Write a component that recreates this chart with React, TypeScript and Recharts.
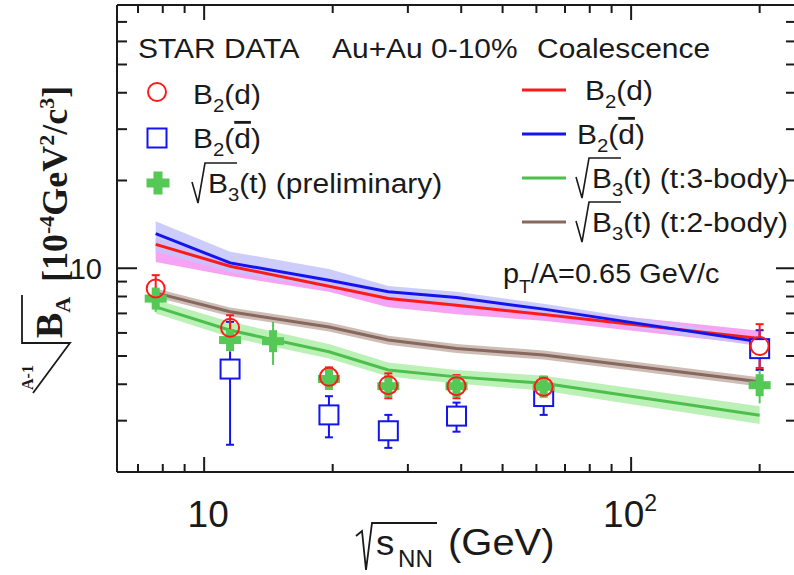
import React from 'react';
import { ComposedChart, XAxis, YAxis, Area, Line, Scatter, ErrorBar } from 'recharts';

// collision energies (GeV) used by the coalescence curves
const energies = [7.7, 11.5, 19.6, 27, 39, 62.4, 200];

// coalescence model: B2(d)
const modelD = [12.08, 10.16, 8.68, 7.87, 7.47, 6.94, 5.74];
const modelDLow = [10.5, 9.4, 8.3, 7.35, 6.95, 6.6, 5.45];
const modelDHigh = [12.7, 10.6, 9.05, 8.15, 7.75, 7.3, 6.1];
// coalescence model: B2(dbar)
const modelDbar = [13.15, 10.43, 9.1, 8.3, 7.93, 7.24, 5.59];
const modelDbarLow = [11.4, 9.7, 8.5, 7.8, 7.5, 6.95, 5.4];
const modelDbarHigh = [14.5, 11.4, 9.95, 8.7, 8.3, 7.55, 5.8];
// coalescence model: sqrt(B3(t)), 3-body
const model3Body = [7.37, 6.13, 5.17, 4.48, 4.24, 4.03, 3.13];
const model3BodyLow = [7.0, 5.8, 4.9, 4.25, 4.02, 3.8, 2.92];
const model3BodyHigh = [7.8, 6.55, 5.5, 4.75, 4.48, 4.28, 3.36];
// coalescence model: sqrt(B3(t)), 2-body
const model2Body = [8.23, 7.09, 6.29, 5.67, 5.31, 5.04, 4.08];
const model2BodyLow = [7.95, 6.85, 6.07, 5.47, 5.12, 4.86, 3.93];
const model2BodyHigh = [8.52, 7.34, 6.51, 5.87, 5.5, 5.22, 4.23];

// STAR data: B2(d)
const dEnergies = [7.7, 11.5, 19.6, 27, 39, 62.4, 200];
const dValues = [8.52, 6.25, 4.24, 3.97, 3.94, 3.92, 5.41];
const dErrLow = [0.62, 0.58, 0.32, 0.39, 0.36, 0.29, 0.86];
const dErrHigh = [0.95, 0.65, 0.33, 0.39, 0.36, 0.32, 1.02];

// STAR data: B2(dbar)
const dbarEnergies = [11.5, 19.6, 27, 39, 62.4, 200];
const dbarValues = [4.51, 3.14, 2.77, 3.11, 3.63, 5.3];
const dbarErrLow = [2.03, 0.51, 0.35, 0.36, 0.49, 0.82];
const dbarErrHigh = [2.04, 0.5, 0.37, 0.35, 0.61, 0.83];

// STAR data: sqrt(B3(t)), preliminary
const tEnergies = [7.7, 11.5, 14.5, 19.6, 27, 39, 62.4, 200];
const tValues = [7.87, 5.67, 5.62, 4.17, 3.94, 3.94, 3.92, 3.97];
const tErrLow = [0.78, 0.5, 0.96, 0.2, 0.2, 0.2, 0.2, 0.53];
const tErrHigh = [0.76, 0.55, 0.93, 0.2, 0.2, 0.2, 0.2, 0.51];

const xTicks = [7, 8, 9, 10, 20, 30, 40, 50, 60, 70, 80, 90, 100, 200];
const yTicks = [3, 4, 5, 6, 7, 8, 9, 10, 20, 30, 40, 50, 60, 70, 80];

const W = 794;
const H = 575;
const PLOT_TOP = 5;
const PLOT_LEFT = 117;
const PLOT_BOTTOM = 472;
const INK = '#1a1a1a';
const SANS = '"Liberation Sans", Arial, sans-serif';
const SERIF = '"Liberation Serif", "Times New Roman", serif';

const RED = '#ff1a1a';
const BLUE = '#1414ee';
const GREEN = '#55c855';
const GREEN_LINE = '#4cbf4c';
const BROWN = '#86685e';

const modelRows = energies.map((e, i) => ({
  e,
  d: modelD[i],
  dBand: [modelDLow[i], modelDHigh[i]],
  dbar: modelDbar[i],
  dbarBand: [modelDbarLow[i], modelDbarHigh[i]],
  three: model3Body[i],
  threeBand: [model3BodyLow[i], model3BodyHigh[i]],
  two: model2Body[i],
  twoBand: [model2BodyLow[i], model2BodyHigh[i]],
}));

const dRows = dEnergies.map((e, i) => ({ e, v: dValues[i], err: [dErrLow[i], dErrHigh[i]] }));
const dbarRows = dbarEnergies.map((e, i) => ({ e, v: dbarValues[i], err: [dbarErrLow[i], dbarErrHigh[i]] }));
const tRows = tEnergies.map((e, i) => ({ e, v: tValues[i], err: [tErrLow[i], tErrHigh[i]] }));

function OpenCircle({ cx, cy }: { cx: number; cy: number }) {
  return <circle cx={cx} cy={cy} r={9} fill="none" stroke={RED} strokeWidth={2} />;
}

function OpenSquare({ cx, cy }: { cx: number; cy: number }) {
  return <rect x={cx - 9.5} y={cy - 9.5} width={19} height={19} fill="#fff" stroke={BLUE} strokeWidth={2} />;
}

function FatCross({ cx, cy, span, arm }: { cx: number; cy: number; span: number; arm: number }) {
  const h = span / 2;
  const a = arm / 2;
  return (
    <g fill={GREEN}>
      <rect x={cx - h} y={cy - a} width={span} height={arm} />
      <rect x={cx - a} y={cy - h} width={arm} height={span} />
    </g>
  );
}

function XTick({ x, y, payload }: any) {
  const v = payload.value;
  const major = v === 10 || v === 100;
  const len = major ? 15 : 8;
  return (
    <g>
      <line x1={x} y1={y} x2={x} y2={y - len} stroke={INK} strokeWidth={2} />
      <line x1={x} y1={PLOT_TOP} x2={x} y2={PLOT_TOP + len} stroke={INK} strokeWidth={2} />
      {v === 10 && (
        <text x={x + 4} y={y + 55} textAnchor="middle" fontFamily={SANS} fontSize={37} fill={INK}>
          10
        </text>
      )}
      {v === 100 && (
        <text x={x - 28} y={y + 55} fontFamily={SANS} fontSize={37} fill={INK}>
          10<tspan dy={-16} fontSize={23}>2</tspan>
        </text>
      )}
    </g>
  );
}

function YTick({ x, y, payload }: any) {
  const v = payload.value;
  const major = v === 10;
  const len = major ? 20 : 10;
  return (
    <g>
      <line x1={x} y1={y} x2={x + len} y2={y} stroke={INK} strokeWidth={2} />
      <line x1={W} y1={y} x2={W - len + 2} y2={y} stroke={INK} strokeWidth={2} />
      {major && (
        <text x={x - 15} y={y + 11} textAnchor="end" fontFamily={SANS} fontSize={29} fill={INK}>
          10
        </text>
      )}
    </g>
  );
}

function Label({ x, y, size = 28, sx = 1.07, children }: any) {
  return (
    <g transform={`translate(${x} ${y}) scale(${sx} 1)`}>
      <text x={0} y={0} fontFamily={SANS} fontSize={size} fill={INK}>
        {children}
      </text>
    </g>
  );
}

function Radical({ x, b, w }: any) {
  return (
    <polyline
      points={`${x},${b - 11} ${x + 6},${b + 10} ${x + 13},${b - 30} ${x + 13 + w},${b - 30}`}
      fill="none"
      stroke={INK}
      strokeWidth={1.6}
    />
  );
}

function Overlay() {
  return (
    <svg width={W} height={H} style={{ position: 'absolute', left: 0, top: 0, pointerEvents: 'none' }}>
      {/* frame top */}
      <line x1={PLOT_LEFT} y1={PLOT_TOP} x2={W} y2={PLOT_TOP} stroke={INK} strokeWidth={2} />

      {/* header */}
      <Label x={138} y={58}>STAR DATA</Label>
      <Label x={332} y={58}>Au+Au 0-10%</Label>
      <Label x={537} y={58}>Coalescence</Label>

      {/* data legend */}
      <OpenCircle cx={157} cy={92} />
      <Label x={193} y={104}>
        B<tspan dy={8} fontSize={19}>2</tspan>
        <tspan dy={-8}>(d)</tspan>
      </Label>
      <OpenSquare cx={157} cy={138} />
      <Label x={193} y={148}>
        B<tspan dy={8} fontSize={19}>2</tspan>
        <tspan dy={-8}>(</tspan>
        <tspan textDecoration="overline">d</tspan>
        <tspan>)</tspan>
      </Label>
      <FatCross cx={158} cy={183} span={23} arm={9} />
      <Radical x={192} b={193} w={32} />
      <Label x={208} y={193}>
        B<tspan dy={8} fontSize={19}>3</tspan>
        <tspan dy={-8}>(t) (preliminary)</tspan>
      </Label>

      {/* model legend */}
      <line x1={522} y1={90} x2={566} y2={90} stroke={RED} strokeWidth={3} />
      <Label x={585} y={100}>
        B<tspan dy={8} fontSize={19}>2</tspan>
        <tspan dy={-8}>(d)</tspan>
      </Label>
      <line x1={522} y1={134} x2={566} y2={134} stroke={BLUE} strokeWidth={3} />
      <Label x={577} y={144}>
        B<tspan dy={8} fontSize={19}>2</tspan>
        <tspan dy={-8}>(</tspan>
        <tspan textDecoration="overline">d</tspan>
        <tspan>)</tspan>
      </Label>
      <line x1={522} y1={178} x2={566} y2={178} stroke={GREEN_LINE} strokeWidth={3} />
      <Radical x={576} b={188} w={32} />
      <Label x={592} y={188}>
        B<tspan dy={8} fontSize={19}>3</tspan>
        <tspan dy={-8}>(t) (t:3-body)</tspan>
      </Label>
      <line x1={522} y1={222} x2={566} y2={222} stroke={BROWN} strokeWidth={3} />
      <Radical x={576} b={232} w={32} />
      <Label x={592} y={232}>
        B<tspan dy={8} fontSize={19}>3</tspan>
        <tspan dy={-8}>(t) (t:2-body)</tspan>
      </Label>

      <Label x={503} y={283} size={27}>
        p<tspan dy={10} fontSize={18}>T</tspan>
        <tspan dy={-10}>/A=0.65 GeV/c</tspan>
      </Label>

      {/* y-axis title */}
      <polyline points="22,295 22,343 70,343 33,393" fill="none" stroke={INK} strokeWidth={1.8} />
      <g transform="translate(33 390) rotate(-90)">
        <text fontFamily={SERIF} fontWeight="bold" fontSize={16} fill={INK}>A-1</text>
      </g>
      <g transform="translate(62 338) rotate(-90)">
        <text fontFamily={SERIF} fontWeight="bold" fontSize={38} fill={INK}>
          B<tspan dy={8} fontSize={22}>A</tspan>
        </text>
      </g>
      <g transform="translate(67 282) rotate(-90)">
        <text fontFamily={SERIF} fontWeight="bold" fontSize={36} fill={INK}>
          [10<tspan dy={-13} fontSize={22}>-4</tspan>
          <tspan dy={13}>GeV</tspan>
          <tspan dy={-13} fontSize={22}>2</tspan>
          <tspan dy={13}>/c</tspan>
          <tspan dy={-13} fontSize={22}>3</tspan>
          <tspan dy={13}>]</tspan>
        </text>
      </g>

      {/* x-axis title */}
      <polyline points="356,536 362,531 366,570 372,523 437,523" fill="none" stroke={INK} strokeWidth={1.8} />
      <Label x={376} y={555} size={35} sx={1.05}>s</Label>
      <Label x={398} y={567} size={23} sx={1.05}>NN</Label>
      <Label x={448} y={555} size={37} sx={1.08}>(GeV)</Label>
    </svg>
  );
}

export default function App() {
  return (
    <div style={{ position: 'absolute', left: 0, top: 0, width: W, height: H, background: '#fff' }}>
      <ComposedChart width={W} height={H} data={modelRows} margin={{ top: PLOT_TOP, right: 0, left: 0, bottom: 0 }}>
        <XAxis
          dataKey="e"
          type="number"
          scale="log"
          domain={[6.25, 240.7]}
          allowDataOverflow
          ticks={xTicks}
          interval={0}
          height={H - PLOT_BOTTOM}
          tickSize={0}
          tickMargin={0}
          tick={(p: any) => <XTick {...p} />}
          axisLine={{ stroke: INK, strokeWidth: 2 }}
        />
        <YAxis
          type="number"
          scale="log"
          domain={[2, 80]}
          allowDataOverflow
          ticks={yTicks}
          interval={0}
          width={PLOT_LEFT}
          tickSize={0}
          tickMargin={0}
          tick={(p: any) => <YTick {...p} />}
          axisLine={{ stroke: INK, strokeWidth: 2 }}
        />
        <Area dataKey="dBand" type="linear" stroke="none" fill="#f7a3f3" fillOpacity={1} isAnimationActive={false} dot={false} activeDot={false} />
        <Area dataKey="dbarBand" type="linear" stroke="none" fill="#c4c4fa" fillOpacity={0.85} isAnimationActive={false} dot={false} activeDot={false} />
        <Area dataKey="twoBand" type="linear" stroke="none" fill="#bda79f" fillOpacity={0.75} isAnimationActive={false} dot={false} activeDot={false} />
        <Area dataKey="threeBand" type="linear" stroke="none" fill="#b4efae" fillOpacity={0.9} isAnimationActive={false} dot={false} activeDot={false} />
        <Line dataKey="d" type="linear" stroke={RED} strokeWidth={3} dot={false} activeDot={false} isAnimationActive={false} />
        <Line dataKey="dbar" type="linear" stroke={BLUE} strokeWidth={3} dot={false} activeDot={false} isAnimationActive={false} />
        <Line dataKey="two" type="linear" stroke={BROWN} strokeWidth={3} dot={false} activeDot={false} isAnimationActive={false} />
        <Line dataKey="three" type="linear" stroke={GREEN_LINE} strokeWidth={3} dot={false} activeDot={false} isAnimationActive={false} />
        <Scatter data={dbarRows} dataKey="v" shape={(p: any) => <OpenSquare cx={p.cx} cy={p.cy} />} isAnimationActive={false}>
          <ErrorBar dataKey="err" direction="y" width={4} stroke={BLUE} strokeWidth={2} />
        </Scatter>
        <Scatter data={tRows} dataKey="v" shape={(p: any) => <FatCross cx={p.cx} cy={p.cy} span={22} arm={8} />} isAnimationActive={false}>
          <ErrorBar dataKey="err" direction="y" width={0} stroke={GREEN} strokeWidth={2} />
        </Scatter>
        <Scatter data={dRows} dataKey="v" shape={(p: any) => <OpenCircle cx={p.cx} cy={p.cy} />} isAnimationActive={false}>
          <ErrorBar dataKey="err" direction="y" width={4} stroke={RED} strokeWidth={2} />
        </Scatter>
      </ComposedChart>
      <Overlay />
    </div>
  );
}
